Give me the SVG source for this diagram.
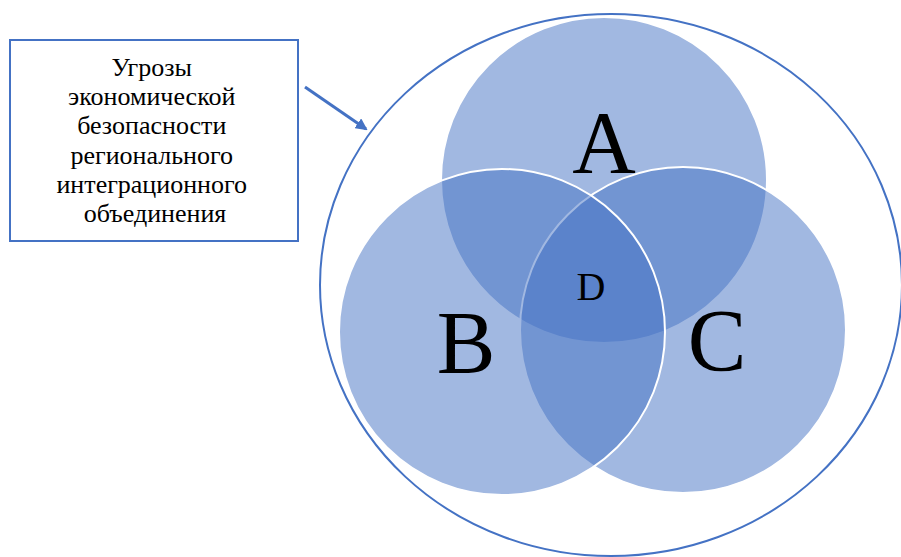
<svg xmlns="http://www.w3.org/2000/svg" width="901" height="557" viewBox="0 0 901 557">
<style>
.box{fill:#fff;stroke:#4472C4;stroke-width:2}
.venn{fill:#4472C4;fill-opacity:0.5;stroke:#fff;stroke-width:2}
.outer{fill:none;stroke:#4472C4;stroke-width:2}
.t{font-family:"Liberation Serif","DejaVu Serif","Times New Roman",serif;fill:#000;text-anchor:middle}
.big{font-size:88px}
</style>
<defs>
<marker id="ah" markerWidth="12" markerHeight="12" refX="10" refY="6" orient="auto" markerUnits="userSpaceOnUse"><path d="M0,0 L12,6 L0,12 Z" fill="#4472C4"/></marker>
</defs>
<rect width="901" height="557" fill="#fff"/>
<g id="outer-ellipse"><ellipse class="outer" cx="611" cy="285" rx="291" ry="271"/></g>
<g id="circle-A"><circle class="venn" cx="604" cy="180" r="163"/></g>
<g id="circle-C"><circle class="venn" cx="683" cy="330" r="163"/></g>
<g id="circle-B"><circle class="venn" cx="502" cy="332" r="163"/></g>
<g id="labels">
<text class="t big" x="604" y="172">A</text>
<text class="t big" x="466" y="372">B</text>
<text class="t big" x="717" y="370">C</text>
<text class="t" x="591" y="300" font-size="40">D</text>
</g>
<g id="threats-box">
<rect class="box" x="10" y="40" width="288" height="201"/>
<text class="t" font-size="26" x="155">
<tspan x="155" y="76">Угрозы</tspan>
<tspan x="155" y="105">экономической</tspan>
<tspan x="155" y="134">безопасности</tspan>
<tspan x="155" y="164">регионального</tspan>
<tspan x="155" y="193">интеграционного</tspan>
<tspan x="155" y="222">объединения</tspan>
</text>
</g>
<g id="connectors">
<line x1="305" y1="87" x2="366" y2="129" stroke="#4472C4" stroke-width="3" marker-end="url(#ah)"/>
</g>
</svg>
